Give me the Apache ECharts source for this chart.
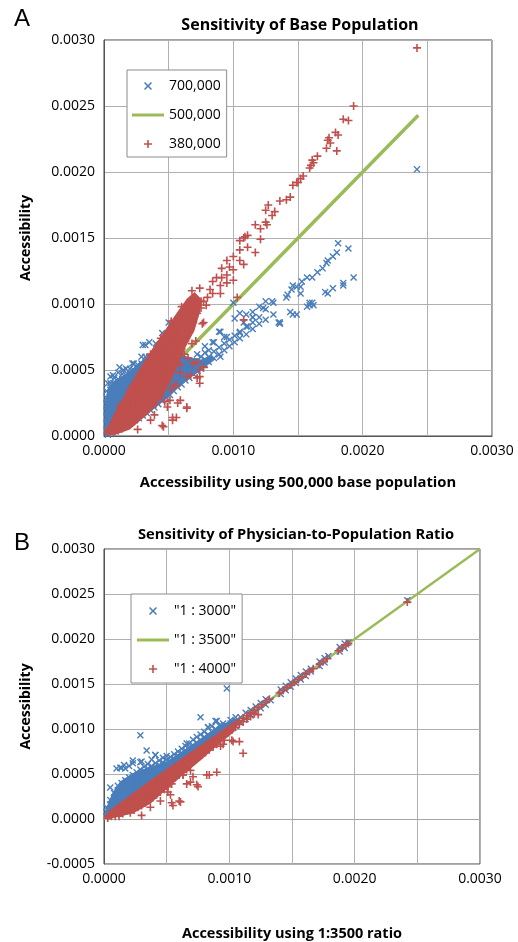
<!DOCTYPE html>
<html><head><meta charset="utf-8">
<script src="https://cdn.jsdelivr.net/npm/echarts@6/dist/echarts.min.js"></script>
<style>html,body{margin:0;padding:0;background:#fff}#c{width:518px;height:942px}</style>
</head><body><div id="c"></div>
<script>
// Values in units of 1e-4 (axis labels show real units). Rows: [x, y1, y2, ...]
const xTicks = [0, 10, 20, 30];
const namesA = ['700,000', '500,000', '380,000'];
const namesB = ['"1 : 3000"', '"1 : 3500"', '"1 : 4000"'];

// ---- Panel A: 700,000 (blue x) ----
const blueA_upper = [
 [0.2,0.4,0.9,1.4,1.9,2.4,2.9,3.4],[0.5,1.0,1.5,2.0,2.5,3.0,3.5,4.0,4.5],[0.8,1.4,1.9,2.4,2.9,3.4,3.9,4.4],
 [1.1,1.8,2.3,2.8,3.3,3.8,4.3,4.8],[1.4,2.2,2.7,3.2,3.7,4.2,4.7],[1.7,2.7,3.2,3.7,4.2,4.6,5.1],
 [2.0,3.2,3.7,4.2,4.6,5.1],[2.3,3.6,4.1,4.6,5.0,5.5],[2.6,4.0,4.5,5.0,5.4],[2.9,4.5,5.0,5.5,6.0],
 [3.2,5.0,5.5,6.0,6.9],[3.5,5.4,6.0,7.1],[0.7,4.6],[1.2,5.2],[2.2,5.5],[3.0,6.9],[4.0,7.0],[4.5,7.8],
 [5.0,8.6],[0.3,4.0],[1.5,5.0]
];
const blueA_band = [
 [0.3,0.1,0.2],[0.6,0.2,0.45],[0.9,0.35,0.65],[1.2,0.5,0.8,1.05],[1.5,0.65,1.0,1.3],[1.8,0.8,1.15,1.5],
 [2.1,1.0,1.35,1.7],[2.4,1.2,1.55,1.9],[2.7,1.35,1.75,2.15],[3.0,1.55,1.95,2.35],[3.3,1.75,2.15,2.55,2.9],
 [3.6,1.95,2.35,2.75,3.1],[3.9,2.15,2.55,2.95,3.35],[4.2,2.4,2.8,3.2,3.6],[4.5,2.65,3.05,3.45,3.85],
 [4.8,2.9,3.3,3.7,4.1],[5.1,3.1,3.5,3.9,4.3],[5.4,3.4,3.8,4.2,4.6],[5.7,3.7,4.1,4.5,4.9],
 [6.0,3.9,4.3,4.7,5.1],[6.3,4.2,4.6,5.0,5.4],[6.6,4.4,4.8,5.2,5.6],[6.9,4.7,5.1,5.5],[7.2,4.9,5.3,5.7,6.2],
 [7.5,5.1,5.5,6.0],[7.8,5.4,5.8,6.3,6.8],[8.1,5.6,6.0,6.5],[8.5,5.9,6.4,7.1],[8.9,6.2,6.7,7.9],
 [9.3,6.5,7.0,7.5],[9.7,6.8,7.3],[10.1,7.1,7.6,8.9],[10.5,7.4,7.9,9.3],[11.0,7.7,8.3,9.2],
 [11.5,8.1,8.6,9.0,9.4],[12.0,8.5,9.0,9.8],[12.5,8.8,9.6,10.2],[13.1,9.2,10.1],[13.6,8.5,8.6],
 [14.4,9.4],[14.6,9.2],[14.9,9.2],[15.9,9.9,10.1],[16.2,9.9],[9.0,7.9],[10.5,7.8],[13.5,8.6],
 [8.4,7.1],[9.5,7.5],[9.0,6.0]
];
const blueA_sparse = [
 [14.1,10.5],[14.2,10.7],[14.5,11.1],[14.6,11.4],[14.9,11.3],[15.2,10.8,11.3],[15.3,11.7],[15.7,12.0],
 [16.1,12.0],[16.5,12.4],[16.9,12.7],[17.2,13.1],[17.3,13.3],[17.7,13.6],[18.0,13.9],[18.1,14.6],
 [18.9,14.2],[13.0,10.2],[12.3,9.7],[10.0,10.1],[11.1,8.3],[10.8,8.6],[11.5,9.0],
 [15.7,9.8],[16.1,10.1],[17.1,10.9],[17.3,10.8],[17.7,11.2],[18.5,11.4,11.6],[19.3,12.0],[24.2,20.2]
];
// dense-cloud outline of the 700,000 points
const blueA_core = [
 [0.05,0.05],[0.05,2.5],[0.3,3.7],[0.8,4.2],[1.5,4.6],[2.2,5.1],[2.8,5.6],[3.3,6.0],[4.0,6.5],
 [5.5,6.3],[6.5,6.0],[7.5,5.8],[8.3,6.1],[8.6,5.8],[7.4,4.9],[6.1,4.0],[4.9,3.0],[3.6,1.9],
 [2.2,1.0],[1.0,0.35],[0.3,0.05]
];
// ---- Panel A: 500,000 (green line, y = x) ----
const greenA = [[0.4,0.4],[24.3,24.3]];
// ---- Panel A: 380,000 (red +) ----
const redA_band = [
 [0.3,0.3,0.45],[0.6,0.6,0.8],[0.9,0.9,1.15,1.35],[1.2,1.2,1.5,1.75],[1.5,1.5,1.85,2.2],[1.8,1.8,2.2,2.6],
 [2.1,2.0,2.4,2.8,3.1],[2.4,2.2,2.6,3.0,3.4,3.6],[2.7,2.4,2.9,3.3,3.7,4.0],[3.0,2.6,3.1,3.5,3.9,4.3],
 [3.3,2.8,3.3,3.8,4.3,4.7],[3.6,3.0,3.5,4.0,4.5,5.0],[3.9,3.3,3.8,4.3,4.8,5.3,5.7],
 [4.2,3.6,4.1,4.6,5.1,5.6,6.1],[4.5,4.0,4.5,5.0,5.5,6.0,6.5],[4.8,4.4,4.9,5.4,5.9,6.4,6.9],
 [5.1,4.9,5.4,5.9,6.4,6.9,7.4],[5.4,5.4,5.9,6.4,6.9,7.4,7.9],[5.7,6.0,6.5,7.0,7.5,8.1],
 [6.0,6.6,7.1,7.6,8.1,8.6],[6.3,7.2,7.7,8.2,8.7,9.2],[6.6,7.9,8.4,8.9,9.4,9.8],[6.9,8.6,9.1,9.6,10.1],
 [7.2,9.3,9.8,10.3],[7.5,9.7,10.2],
 [1.2,2.3],[2.0,3.6],[2.9,4.9],[3.6,6.2],[4.4,7.4],[5.2,8.7],[6.0,9.8],[6.8,11.0],[7.4,11.2],
 [7.9,9.9],[7.6,8.5],[7.1,7.2],[6.5,5.9],[5.9,4.8],[5.4,3.8],[4.7,2.6],[3.9,1.6],[2.6,0.5]
];
const redA_sparse = [
 [7.7,10.2],[8.0,10.5],[8.2,11.1],[8.4,10.8,11.7],[8.7,12.0],[9.0,10.8,11.4],[9.1,12.0,12.7],
 [9.5,11.6,12.2,13.3],[9.7,12.8],[10.0,11.8,12.6,13.6],[10.5,13.3,14.1,14.8],[10.8,13.0,15.0],
 [10.9,15.1],[11.1,14.3,15.2],[11.7,13.9,16.0],[12.1,14.9,15.7],[12.5,16.2,17.1],[12.6,16.0],
 [12.7,17.5],[13.0,16.7],[13.2,17.0],[13.6,17.8],[14.1,17.9],[14.4,18.1],[14.6,19.0],[14.9,19.2],
 [15.0,19.2],[15.2,19.5],[15.4,19.7],[15.9,20.3],[16.0,20.5],[16.1,20.9],[16.2,20.7],[16.5,21.2],
 [17.2,21.8],[17.3,22.4],[17.4,22.6],[17.5,22.2],[17.9,23.0],[18.0,21.6],[18.1,22.8],[18.5,24.0],
 [18.9,23.9],[19.3,25.0],[24.2,29.4],
 [4.5,0.8],[5.3,1.2,1.4],[5.6,1.4],[6.4,2.1,2.2],[5.7,2.5],[5.1,2.7],[4.9,2.2],[3.6,1.2],[4.6,0.7],
 [5.9,2.7],[3.2,1.8],[4.0,2.4],[4.4,3.0],[5.2,3.5],[5.6,3.9],
 [5.9,5.4],[6.4,4.5],[7.4,4.0,4.5,5.0],[6.7,4.6],[5.5,5.5],[7.2,4.4,5.6],[7.7,5.2,8.6],[10.8,8.8],
 [10.3,10.5],[6.9,5.5],[6.2,6.2],[6.8,7.0]
];
const redA_core = [
 [0.05,0.1],[0.2,0.5],[0.8,1.75],[1.5,2.95],[2.2,4.2],[3.0,5.5],[3.8,6.7],[4.7,8.0],[5.6,9.3],
 [6.4,10.4],[7.0,10.9],[7.6,10.3],[7.4,9.3],[7.0,8.0],[6.3,6.7],[5.8,5.5],[5.2,4.2],[4.5,2.95],
 [3.5,1.75],[2.0,0.5],[0.8,0.05]
];

// ---- Panel B: 1:3000 (blue x) ----
const blueB_rows = [
 [0.2,0.3,0.8,1.3],[0.5,0.6,1.1,1.6,2.1,3.5],[0.8,0.9,1.4,1.9,2.4,2.9],[1.1,1.2,1.7,2.2,2.7,3.2,3.7],
 [1.4,1.5,2.0,2.5,3.0,3.5,4.0,5.7],[1.7,1.8,2.3,2.8,3.3,3.8,4.3,5.6],[2.0,2.1,2.6,3.1,3.6,4.1,4.6,5.9],
 [2.3,2.4,2.9,3.4,3.9,4.4,4.9,6.2],[2.6,2.7,3.2,3.7,4.2,4.7,5.2],[2.9,3.0,3.5,4.0,4.5,5.0,5.5,6.3],
 [3.2,3.3,3.8,4.3,4.8,5.3,5.8],[3.5,3.6,4.1,4.6,5.1,5.6,6.1],[3.8,3.9,4.4,4.9,5.4,5.9,6.6],
 [4.1,4.2,4.7,5.2,5.7,6.2,7.1],[4.4,4.5,5.0,5.5,6.0,6.5],[4.7,4.8,5.3,5.8,6.3,6.8],
 [5.0,5.1,5.6,6.1,6.6,7.0],[5.3,5.4,5.9,6.4,6.9],[5.6,5.7,6.2,6.7,7.2],[5.9,6.0,6.5,7.0,7.5],
 [6.2,6.3,6.8,7.3,7.8],[6.5,6.6,7.1,7.6,8.1],[6.8,6.9,7.4,7.9,8.4],[7.1,7.2,7.7,8.2,8.8],
 [7.4,7.5,8.0,8.5,9.1],[7.7,7.8,8.3,8.8,9.4,11.3],[8.0,8.1,8.6,9.1,9.7],[8.3,8.4,8.9,9.4,10.2],
 [8.6,8.7,9.2,9.7,10.3],[8.9,9.0,9.5,10.0,10.9],[9.2,9.3,9.8,10.4],[9.5,9.6,10.1,10.6],[9.8,9.9,10.4,14.5],
 [10.1,10.0,10.6,11.0],[10.5,10.3,10.9,11.3],[10.9,10.7,11.3],[11.3,11.1,11.8],[11.7,11.5,12.1],
 [12.1,11.9,12.5],[12.5,12.3,12.9],[12.9,12.7,13.3],[13.3,13.2],
 [14.1,13.9,14.4],[14.5,14.3,14.8],[14.9,14.7,15.2],[15.3,15.1,15.6],[15.7,15.5,16.0],[16.1,15.9,16.4],
 [16.5,16.4,16.7],[17.2,17.0,17.5],[17.6,17.4,17.9],[17.9,18.1],[18.8,18.6,19.1],[19.2,19.0,19.5],
 [19.5,19.6],[24.2,24.3],
 [2.9,9.3],[3.4,7.6],[4.1,7.1],[9.0,10.9],[1.0,5.6],[1.3,5.7],[1.6,6.0],[2.3,6.5],[3.0,6.4],[6.6,8.4],[8.3,10.2]
];
const blueB_core = [
 [0.0,0.0],[0.2,1.3],[0.7,3.0],[1.3,4.2],[2.3,5.1],[3.7,5.8],[5.0,6.4],[6.3,7.6],[7.7,8.9],[9.0,10.2],
 [10.3,11.1],[10.8,11.2],[10.8,10.6],[0.3,0.0]
];
// ---- Panel B: 1:3500 (green line, y = x) ----
const greenB = [[0,0],[30,30]];
// ---- Panel B: 1:4000 (red +) ----
const redB_rows = [
 [0.3,0.3,0.1],[0.6,0.6,0.3],[0.9,0.9,0.6,0.3],[1.2,1.2,0.9,0.6,0.3],[1.5,1.6,1.2,0.9,0.6],
 [1.8,1.9,1.5,1.2,0.9],[2.1,2.2,1.8,1.5,1.1,0.7],[2.4,2.5,2.1,1.8,1.4,1.0],[2.7,2.8,2.4,2.1,1.7,1.3],
 [3.0,3.1,2.7,2.3,1.9,1.5,0.4],[3.3,3.4,3.0,2.6,2.2,1.8],[3.6,3.7,3.3,2.9,2.5,2.1],[3.9,4.0,3.6,3.2,2.8,2.4],
 [4.2,4.3,3.9,3.5,3.1,2.7],[4.5,4.6,4.2,3.8,3.4,3.0,2.0],[4.8,4.9,4.5,4.1,3.7,3.3],
 [5.1,5.2,4.8,4.4,4.0,3.6,3.0],[5.4,5.5,5.1,4.7,4.3,3.9,1.8],[5.7,5.8,5.4,5.0,4.6],[6.0,6.1,5.7,5.3,4.9,2.0],
 [6.3,6.4,6.0,5.6,5.2,4.9],[6.6,6.7,6.3,5.9,5.5,3.9],[6.9,7.0,6.6,6.2,5.4,4.1],[7.2,7.3,6.9,6.5],
 [7.5,7.6,7.2,6.8,3.6],[7.8,7.9,7.5,7.1],[8.1,8.2,7.8,7.4],[8.4,8.5,8.1,7.7,4.9],[8.7,8.8,8.4,8.0],
 [9.0,9.1,8.7,8.3,5.2],[9.3,9.4,9.0,8.1],[9.6,9.7,9.3,8.75],[9.9,10.0,9.6],[10.2,10.3,9.9,8.75],
 [10.5,10.6,10.2],[10.8,10.9,10.5,8.6],[11.1,11.2,10.8,7.3],[11.4,11.5,11.1],[11.7,11.8,11.4],
 [12.0,12.1,11.7],[12.3,12.4,11.6],[12.6,12.7],[12.9,13.0],[13.2,13.3],
 [14.0,14.0],[14.3,14.3],[14.6,14.6],[14.9,14.9],[15.2,15.2],[15.5,15.5],[15.8,15.8],[16.1,16.1],
 [16.4,16.4],[16.7,16.7],[17.2,17.2],[17.5,17.5],[17.8,17.8],[18.7,18.7],[19.0,19.0],[19.3,19.3],
 [19.5,19.5],[24.2,24.1],
 [3.7,1.3],[5.3,2.7],[6.1,1.9],[5.5,1.5],[8.2,4.9],[7.4,3.8],[6.3,4.9],[7.1,4.7],[10.3,8.6],[9.5,8.3]
];
const redB_core = [
 [0.05,0.05],[0.3,0.8],[3.7,4.3],[7.0,7.5],[10.6,10.9],[10.4,9.7],[9.0,8.1],[7.7,6.5],[6.3,4.9],
 [5.0,3.3],[3.7,1.7],[2.3,0.6],[0.6,0.05]
];

const BLUE = '#4a7ebb', RED = '#c0504d', GREEN = '#9bbb59';
const FONT = 'Open Sans';
const PLUS = 'path://M4,0H6V4H10V6H6V10H4V6H0V4H4Z';
const CROSS = 'path://M1.4,0L5,3.6L8.6,0L10,1.4L6.4,5L10,8.6L8.6,10L5,6.4L1.4,10L0,8.6L3.6,5L0,1.4Z';
const BAR = 'path://M0,0H32V3H0Z';

function flat(rows) { const out = []; rows.forEach(r => { for (let i = 1; i < r.length; i++) out.push([r[0], r[i]]); }); return out; }
function core(name, outline, color, gi, z) {
  return { name: name, type: 'custom', xAxisIndex: gi, yAxisIndex: gi, silent: true, z: z, data: [[0, 0]],
    renderItem: (p, api) => ({ type: 'polygon', shape: { points: outline.map(q => api.coord(q)) }, style: { fill: color } }) };
}
function scat(name, data, sym, color, size, gi, z) {
  return { name: name, type: 'scatter', xAxisIndex: gi, yAxisIndex: gi, data: data, symbol: sym, symbolSize: size, z: z,
    itemStyle: { color: color, opacity: 1 }, silent: true };
}
function line(name, data, width, gi) {
  return { name: name, type: 'line', xAxisIndex: gi, yAxisIndex: gi, data: data, symbol: 'none', showSymbol: false, silent: true, z: 1,
    lineStyle: { color: GREEN, width: width }, itemStyle: { color: GREEN } };
}
const fmt4 = v => (v / 10000).toFixed(4);
function xAxis(gi, name, gap, nameSize) {
  return { type: 'value', gridIndex: gi, min: 0, max: 30, interval: 5,
    axisLabel: { formatter: v => (xTicks.indexOf(Math.round(v)) >= 0 ? fmt4(v) : ''), fontFamily: FONT, fontSize: 14, color: '#000', margin: 8 },
    axisTick: { show: false }, axisLine: { lineStyle: { color: gi === 0 ? '#555' : '#a6a6a6' } },
    splitLine: { lineStyle: { color: '#b0b0b0' } },
    name: name, nameLocation: 'middle', nameGap: gap,
    nameTextStyle: { fontFamily: FONT, fontSize: nameSize, fontWeight: 'bold', color: '#000' } };
}
function yAxis(gi, min) {
  return { type: 'value', gridIndex: gi, min: min, max: 30, interval: 5,
    axisLabel: { formatter: fmt4, fontFamily: FONT, fontSize: 14, color: '#000', margin: 9 },
    axisTick: { show: false }, axisLine: { lineStyle: { color: '#555' } },
    splitLine: { lineStyle: { color: '#b0b0b0' } },
    name: 'Accessibility', nameLocation: 'middle', nameGap: 71, nameRotate: 90,
    nameTextStyle: { fontFamily: FONT, fontSize: 14, fontWeight: 'bold', color: '#000' } };
}
function legend(names, left, top, pad) {
  return { orient: 'vertical', left: left, top: top, padding: pad, itemGap: 13, itemWidth: 32, itemHeight: 8,
    backgroundColor: '#fff', borderColor: '#8c8c8c', borderWidth: 1, borderRadius: 0, selectedMode: false,
    textStyle: { fontFamily: FONT, fontSize: 14, lineHeight: 16, color: '#000' },
    data: [{ name: names[0], icon: CROSS }, { name: names[1], icon: BAR }, { name: names[2], icon: PLUS }] };
}

const chart = echarts.init(document.getElementById('c'));
chart.setOption({
  animation: false,
  backgroundColor: '#fff',
  grid: [
    { left: 104, top: 40, width: 388, height: 396, show: true, borderColor: '#444', borderWidth: 1, backgroundColor: '#fff' },
    { left: 104, top: 549, width: 376, height: 364, show: true, borderColor: '#444', borderWidth: 1, backgroundColor: '#fff' }
  ],
  xAxis: [xAxis(0, 'Accessibility using 500,000 base population', 39, 14.8), xAxis(1, 'Accessibility using 1:3500 ratio', 62, 14.5)],
  yAxis: [yAxis(0, 0), yAxis(1, -5)],
  legend: [legend(namesA, 127, 70, [8, 6, 5, 5]), legend(namesB, 131, 594, [9, 6, 6, 6])],
  graphic: [
    { type: 'text', left: 14, top: 7, style: { text: 'A', font: '24px "Liberation Sans"', fill: '#000' } },
    { type: 'text', left: 14, top: 531, style: { text: 'B', font: '24px "Liberation Sans"', fill: '#000' } },
    { type: 'text', x: 300, y: 25, style: { text: 'Sensitivity of Base Population', font: 'bold 16px "Open Sans"', fill: '#000', textAlign: 'center', textVerticalAlign: 'middle' } },
    { type: 'text', x: 296, y: 535, style: { text: 'Sensitivity of Physician-to-Population Ratio', font: 'bold 14.7px "Open Sans"', fill: '#000', textAlign: 'center', textVerticalAlign: 'middle' } }
  ],
  series: [
    line(namesA[1], greenA, 3.5, 0),
    core('blueA core', blueA_core, BLUE, 0, 2),
    scat(namesA[0], flat(blueA_upper).concat(flat(blueA_band), flat(blueA_sparse)), CROSS, BLUE, 7, 0, 3),
    core('redA core', redA_core, RED, 0, 4),
    scat(namesA[2], flat(redA_band).concat(flat(redA_sparse)), PLUS, RED, 8, 0, 5),
    line(namesB[1], greenB, 2.5, 1),
    core('blueB core', blueB_core, BLUE, 1, 2),
    scat(namesB[0], flat(blueB_rows), CROSS, BLUE, 7, 1, 3),
    core('redB core', redB_core, RED, 1, 4),
    scat(namesB[2], flat(redB_rows), PLUS, RED, 8, 1, 5)
  ]
});
</script></body></html>
